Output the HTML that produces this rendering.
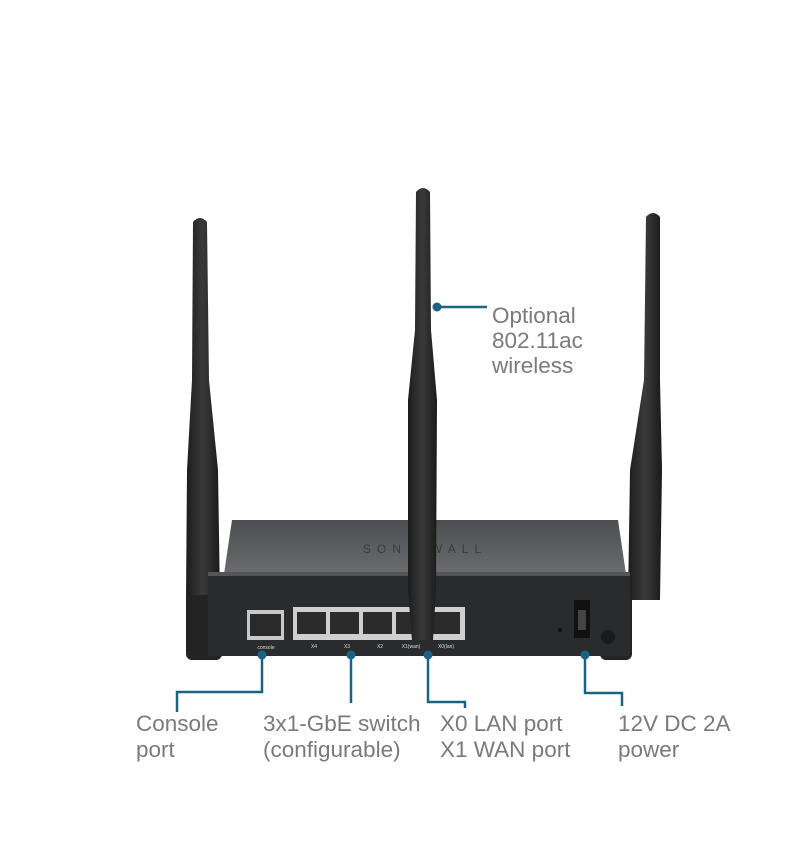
<!DOCTYPE html>
<html><head><meta charset="utf-8"><style>
html,body{margin:0;padding:0;background:#fff;width:800px;height:852px;overflow:hidden}
svg{display:block}
text{font-family:"Liberation Sans",sans-serif;fill:#7a7a7a}
.lbl{font-size:22.5px}
.tiny{font-size:5px;fill:#ddd}
</style></head><body>
<svg width="800" height="852" viewBox="0 0 800 852" xmlns="http://www.w3.org/2000/svg">
<defs>
<linearGradient id="ant" x1="0" x2="1"><stop offset="0" stop-color="#1c1c1c"/><stop offset="0.5" stop-color="#3a3a3a"/><stop offset="1" stop-color="#1a1a1a"/></linearGradient>
<linearGradient id="top" x1="0" y1="0" x2="0" y2="1"><stop offset="0" stop-color="#4c4e51"/><stop offset="1" stop-color="#6a6c6f"/></linearGradient>
</defs>
<!-- left antenna -->
<path d="M193 222 Q200 214 207 222 L209 380 L218 470 L220 600 L186 600 L187 470 L192 380 Z" fill="url(#ant)"/>
<rect x="186" y="595" width="36" height="65" rx="6" fill="#232323"/>
<!-- right antenna -->
<path d="M646 217 Q653 209 660 217 L660 380 L662 470 L660 600 L628 600 L630 470 L644 380 Z" fill="url(#ant)"/>
<rect x="600" y="595" width="32" height="65" rx="6" fill="#232323"/>
<!-- body top -->
<path d="M232 520 L618 520 L626 574 L224 574 Z" fill="url(#top)"/>
<text x="425" y="553" style="font-size:12px;fill:#3a3b3d;letter-spacing:6px" text-anchor="middle">SONICWALL</text>
<!-- front panel -->
<rect x="208" y="572" width="422" height="84" fill="#2a2b2d"/>
<rect x="208" y="572" width="422" height="4" fill="#555"/>
<!-- console port -->
<rect x="247" y="610" width="37" height="30" style="fill:#c8c8c8"/>
<rect x="250" y="614" width="31" height="22" style="fill:#2a2a2a"/>
<text x="266" y="649" class="tiny" text-anchor="middle">console</text>
<!-- switch block -->
<rect x="293" y="607" width="172" height="33" style="fill:#cfcfcf"/>
<rect x="297" y="612" width="29" height="22" style="fill:#2b2b2b"/>
<rect x="330" y="612" width="29" height="22" style="fill:#2b2b2b"/>
<rect x="363" y="612" width="29" height="22" style="fill:#2b2b2b"/>
<rect x="396" y="612" width="29" height="22" style="fill:#2b2b2b"/>
<rect x="430" y="612" width="30" height="22" style="fill:#2b2b2b"/>
<text x="314" y="648" class="tiny" text-anchor="middle">X4</text>
<text x="347" y="648" class="tiny" text-anchor="middle">X3</text>
<text x="380" y="648" class="tiny" text-anchor="middle">X2</text>
<text x="411" y="648" class="tiny" text-anchor="middle">X1(wan)</text>
<text x="446" y="648" class="tiny" text-anchor="middle">X0(lan)</text>
<!-- power -->
<rect x="574" y="600" width="16" height="38" fill="#111"/>
<rect x="578" y="610" width="8" height="20" fill="#444"/>
<circle cx="560" cy="630" r="2" fill="#111"/>
<circle cx="608" cy="637" r="7" fill="#1a1a1a"/>
<!-- center antenna -->
<path d="M416 192 Q423 184 430 192 L431 330 L437 400 L436 590 L433 640 L412 640 L408 590 L408 400 L415 330 Z" fill="url(#ant)"/>
<!-- connectors -->
<g stroke="#1b6385" stroke-width="2.5" fill="none">
<path d="M437 307 H487"/>
<path d="M262 655 V692 H177 V712"/>
<path d="M351 655 V703"/>
<path d="M428 655 V702 H465 V708"/>
<path d="M585 655 V693 H622 V706"/>
</g>
<g fill="#1b6385">
<circle cx="437" cy="307" r="4.5"/><circle cx="262" cy="655" r="4.5"/><circle cx="351" cy="655" r="4.5"/><circle cx="428" cy="655" r="4.5"/><circle cx="585" cy="655" r="4.5"/>
</g>
<text class="lbl" x="492" y="323">Optional</text>
<text class="lbl" x="492" y="348">802.11ac</text>
<text class="lbl" x="492" y="373">wireless</text>
<text class="lbl" x="136" y="731">Console</text><text class="lbl" x="136" y="757">port</text>
<text class="lbl" x="263" y="731">3x1-GbE switch</text><text class="lbl" x="263" y="757">(configurable)</text>
<text class="lbl" x="440" y="731">X0 LAN port</text><text class="lbl" x="440" y="757">X1 WAN port</text>
<text class="lbl" x="618" y="731">12V DC 2A</text><text class="lbl" x="618" y="757">power</text>
</svg>
</body></html>
